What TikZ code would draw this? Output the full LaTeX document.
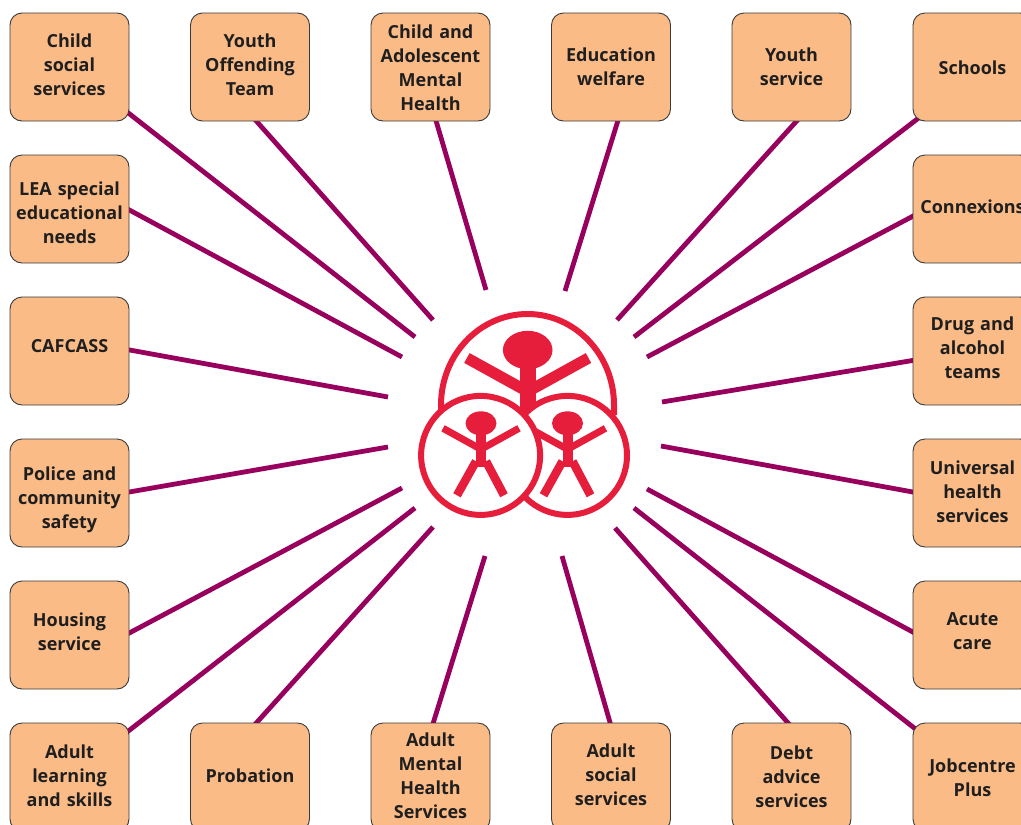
\documentclass[tikz,border=0pt]{standalone}
\usepackage{fontspec}
\setmainfont{Open Sans}
\usetikzlibrary{backgrounds}

\definecolor{boxfill}{HTML}{FBBB87}
\definecolor{boxline}{HTML}{3A3A3A}
\definecolor{linkline}{HTML}{98005E}
\definecolor{iconred}{HTML}{E61E3C}

\tikzset{
  orgbox/.style={draw=boxline, line width=.9pt, fill=boxfill, rounded corners=12pt,
    inner sep=0pt, text width=119pt, align=center, text=black!88,
    font=\fontsize{18}{24}\selectfont\bfseries},
  link/.style={draw=linkline, line width=4.8pt, shorten <=-8pt},
  ring/.style={draw=iconred, line width=6pt, fill=white, circle, inner sep=0pt, minimum size=119pt},
  pics/person/.style={code={
    \fill[iconred] (0,0) ellipse [x radius=15.5, y radius=12];
    \draw[iconred, line width=#1*10pt] (0,0) -- (0,44);
    \draw[iconred, line width=#1*7pt] (-38,5) -- (0,26) -- (38,5);
    \draw[iconred, line width=#1*8.5pt] (-5,38) -- (-24,72);
    \draw[iconred, line width=#1*8.5pt] (5,38) -- (23,72);
  }}
}

\begin{document}
\begin{tikzpicture}[x=1pt, y=-1pt]
  \useasboundingbox (0,0) rectangle (1021,825);
  \clip (0,0) rectangle (1021,825);

  % boxes: name/centre x/centre y/first baseline/text
  \foreach \name/\cx/\cy/\base/\txt in {
    child/69.5/67/34/Child\\social\\services,
    yot/250/67/34/Youth\\Offending\\Team,
    camh/430.5/67/25/Child and\\Adolescent\\Mental\\Health,
    edwel/611/67/48/Education\\welfare,
    yserv/791.5/67/48/Youth\\service,
    school/972.5/67/61/Schools,
    lea/69.5/209/40/LEA special\\educational\\needs,
    connex/972.5/209/58/Connexions,
    cafcass/69.5/351/55/CAFCASS,
    drug/972.5/351/33/Drug and\\alcohol\\teams,
    police/69.5/493/41/Police and\\community\\safety,
    health/972.5/493/35/Universal\\health\\services,
    housing/69.5/635/45/Housing\\service,
    acute/972.5/635/44/Acute\\care,
    learn/69.5/777/35/Adult\\learning\\and skills,
    probation/250/777/59/Probation,
    amhs/430.5/777/23/Adult\\Mental\\Health\\Services,
    adsoc/611/777/34/Adult\\social\\services,
    debt/791.5/777/36/Debt\\advice\\services,
    jobs/972.5/777/49/Jobcentre\\Plus}
  {
    \pgfmathsetmacro{\dep}{108-\base}
    \node[orgbox, text height=\base pt, text depth=\dep pt] (\name) at (\cx,\cy) {\txt};
  }

  % spokes: box/border angle/free end
  \begin{scope}[on background layer]
    \foreach \name/\ang/\ex/\ey in {
      child/-38.2/415/337, yot/-83.7/433/320, camh/-84.2/486/290,
      edwel/-83.7/565/291, yserv/-85.2/617/320, school/-137.4/634/337,
      lea/-1.9/402/357, connex/-173.3/647/357, cafcass/1.9/388/397,
      drug/-171.4/662/402, police/1.9/388/447, health/179/661/446,
      housing/2.9/402/488, acute/177.1/647/489, learn/38.8/415/508,
      probation/83.7/433/527, amhs/87.3/485/556, adsoc/91/562/556,
      debt/94.8/615/528, jobs/140.7/634/508}
    {
      \coordinate (\name end) at (\ex,\ey);
      \draw[link] (\name.\ang) -- (\name end);
    }
  \end{scope}

  % centre icon
  \draw[iconred, line width=6pt] (441,415) -- (441,405) arc [start angle=180, end angle=360, x radius=86.5, y radius=91] -- (614,415);
  \pic[scale=1.6] at (527.7,350) {person=1.6};
  \node[ring] (rightkid) at (567.5,455.4) {};
  \pic at (567.5,423.3) {person=1};
  \node[ring] (leftkid) at (480.6,455.4) {};
  \pic at (481,423.3) {person=1};
\end{tikzpicture}
\end{document}
